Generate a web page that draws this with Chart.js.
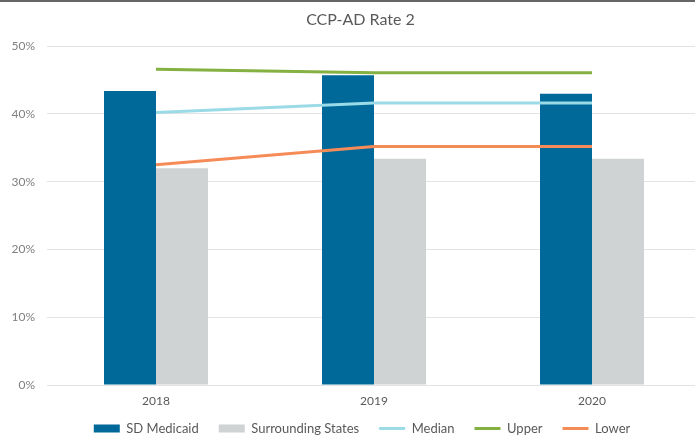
<!DOCTYPE html>
<html>
<head>
<meta charset="utf-8">
<script src="https://cdn.jsdelivr.net/npm/chart.js@4/dist/chart.umd.min.js"></script>
<style>
  html, body { margin: 0; padding: 0; background: #fff; overflow: hidden; }
  #wrap { position: relative; width: 695px; height: 436px; overflow: hidden; }
  #frame { position: absolute; left: 0; top: 0; width: 100%; height: 2px; background: #666; }
  #box { position: absolute; left: 0; top: 0; width: 724px; height: 436px; }
</style>
</head>
<body>
<div id="wrap">
  <div id="box"><canvas id="chart" width="724" height="436"></canvas></div>
  <div id="frame"></div>
</div>
<script>
// ── Data ─────────────────────────────────────────────────
const years = ['2018', '2019', '2020'];
const sdMedicaid = [0.434, 0.457, 0.430];
const surrounding = [0.320, 0.334, 0.334];
const median = [0.402, 0.416, 0.416];
const upper = [0.466, 0.461, 0.461];
const lower = [0.325, 0.352, 0.352];
const yTicks = [0, 0.1, 0.2, 0.3, 0.4, 0.5];

const FONT = 'Lato, "Open Sans", sans-serif';
const GRAY = '#595959';

const lineSet = (label, data, color) => ({
    type: 'line', label, data, borderColor: color, backgroundColor: color,
    borderWidth: 3, pointRadius: 0, tension: 0, order: 0, pointStyle: 'line'
});

// the original chart is a bit wider than the crop: centre title + legend on it
const shiftBoxes = {
    id: 'shiftBoxes',
    afterLayout(chart) {
        const l = chart.legend;
        l.left += 11.5; l.right += 11.5; l.top -= 7;
        const t = chart.titleBlock;
        t.left += 10; t.right += 10;
    }
};

new Chart(document.getElementById('chart'), {
    type: 'bar',
    data: {
        labels: years,
        datasets: [
            { label: 'SD Medicaid', data: sdMedicaid, backgroundColor: '#00699A', order: 1, pointStyle: 'rect' },
            { label: 'Surrounding States', data: surrounding, backgroundColor: '#D0D3D4', order: 1, pointStyle: 'rect' },
            lineSet('Median', median, '#9BDBE7'),
            lineSet('Upper', upper, '#85B042'),
            lineSet('Lower', lower, '#F58C58'),
        ]
    },
    options: {
        responsive: false,
        animation: false,
        categoryPercentage: 0.477,
        barPercentage: 1,
        layout: { padding: { left: 0, right: 23, top: 0, bottom: 0 } },
        scales: {
            x: {
                grid: { display: false, drawTicks: false },
                border: { display: false },
                ticks: { color: GRAY, font: { family: FONT, size: 12 }, padding: 9 },
                afterFit: s => { s.height = 24; }
            },
            y: {
                min: 0, max: 0.5,
                afterBuildTicks: s => { s.ticks = yTicks.map(v => ({ value: v })); },
                grid: { color: '#E3E3E3', lineWidth: 1, drawTicks: false },
                border: { display: false },
                ticks: {
                    color: '#7F7F7F', font: { family: FONT, size: 12 }, padding: 12,
                    callback: v => Math.round(v * 100) + '%'
                },
                afterFit: s => { s.width = 47; }
            }
        },
        plugins: {
            title: {
                display: true, text: 'CCP-AD Rate 2', color: GRAY,
                font: { family: FONT, size: 16, weight: 'normal' },
                padding: { top: 10, bottom: 17 }
            },
            legend: {
                position: 'bottom',
                maxHeight: 27,
                labels: {
                    usePointStyle: true, pointStyleWidth: 26, boxHeight: 8,
                    padding: 20, color: GRAY, font: { family: FONT, size: 13 },
                    sort: (a, b) => a.datasetIndex - b.datasetIndex
                }
            },
            tooltip: { enabled: false }
        }
    },
    plugins: [shiftBoxes]
});
</script>
</body>
</html>
